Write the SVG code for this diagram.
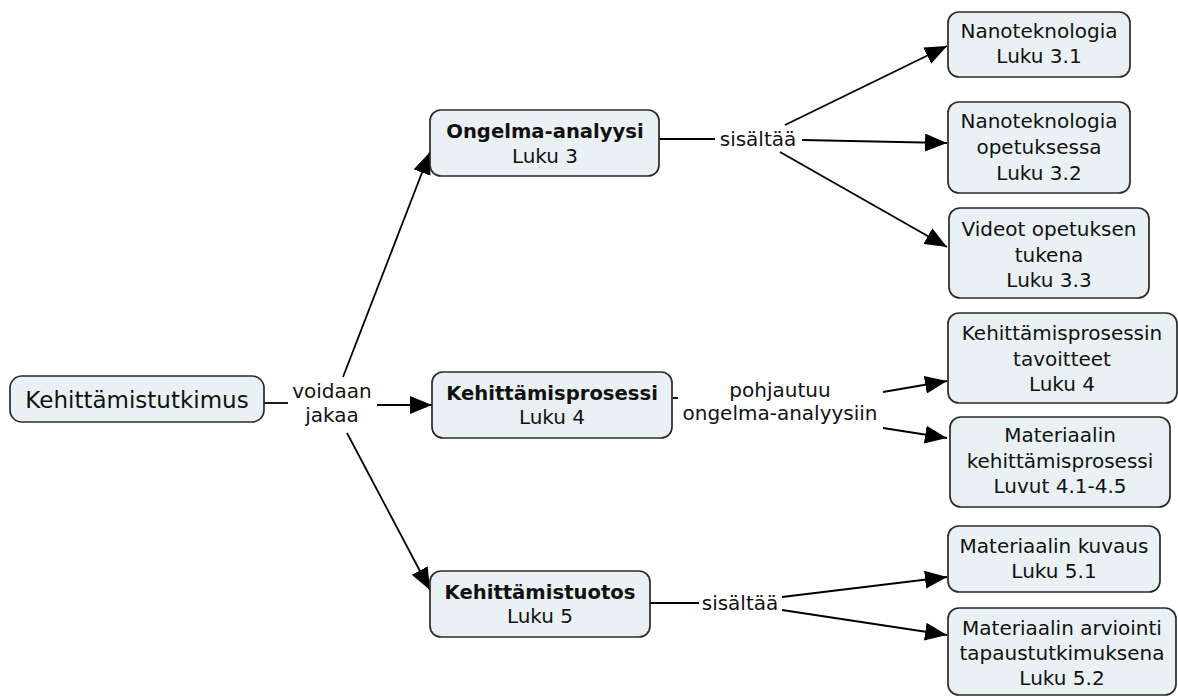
<svg xmlns="http://www.w3.org/2000/svg" width="1178" height="697" viewBox="0 0 1178 697">
<defs>
<marker id="arr" markerUnits="userSpaceOnUse" markerWidth="23" markerHeight="18" refX="22" refY="9" orient="auto">
<path d="M0,0 L22,9 L0,18 z" fill="#000"/>
</marker>
<style>
.box{fill:#e9f1f4;stroke:#2a2a2a;stroke-width:1.7}
.t{font-family:"DejaVu Sans",Verdana,sans-serif;font-size:20px;fill:#111;text-anchor:middle}
.b{font-weight:bold;font-size:19.6px}
.root{font-size:23px}
.c{stroke:#000;stroke-width:1.8;fill:none}
.a{marker-end:url(#arr)}
</style>
</defs>
<rect width="1178" height="697" fill="#fff"/>
<g id="connectors">
<line class="c" x1="264" y1="403" x2="288" y2="403"/>
<line class="c a" x1="343" y1="377" x2="430" y2="152"/>
<line class="c a" x1="377" y1="405" x2="432" y2="405"/>
<line class="c a" x1="347" y1="433" x2="430" y2="590"/>
<line class="c" x1="659" y1="139" x2="715" y2="139"/>
<line class="c a" x1="785" y1="125" x2="947" y2="46"/>
<line class="c a" x1="802" y1="140" x2="947" y2="143"/>
<line class="c a" x1="780" y1="152" x2="947" y2="247"/>
<line class="c" x1="673" y1="398" x2="678" y2="398"/>
<line class="c a" x1="883" y1="392" x2="947" y2="381"/>
<line class="c a" x1="883" y1="428" x2="947" y2="438"/>
<line class="c" x1="650" y1="603" x2="699" y2="603"/>
<line class="c a" x1="782" y1="597" x2="947" y2="577"/>
<line class="c a" x1="782" y1="610" x2="947" y2="635"/>
<text class="t" x="332" y="398">voidaan</text>
<text class="t" x="332" y="422">jakaa</text>
<text class="t" x="758" y="146">sisältää</text>
<text class="t" x="780" y="397">pohjautuu</text>
<text class="t" x="780" y="420">ongelma-analyysiin</text>
<text class="t" x="740" y="610">sisältää</text>
</g>
<g id="n-root">
<rect class="box" x="10" y="376" width="254" height="46" rx="12"/>
<text class="t root" x="137" y="408">Kehittämistutkimus</text>
</g>
<g id="n-ongelma">
<rect class="box" x="430" y="110" width="229" height="66" rx="11"/>
<text class="t b" x="545" y="138">Ongelma-analyysi</text>
<text class="t" x="545" y="163">Luku 3</text>
</g>
<g id="n-prosessi">
<rect class="box" x="432" y="372" width="240" height="66" rx="11"/>
<text class="t b" x="552" y="400">Kehittämisprosessi</text>
<text class="t" x="552" y="424">Luku 4</text>
</g>
<g id="n-tuotos">
<rect class="box" x="430" y="571" width="220" height="66" rx="11"/>
<text class="t b" x="540" y="599">Kehittämistuotos</text>
<text class="t" x="540" y="623">Luku 5</text>
</g>
<g id="n-nano">
<rect class="box" x="948" y="12" width="182" height="65" rx="11"/>
<text class="t" x="1039" y="38">Nanoteknologia</text>
<text class="t" x="1039" y="63">Luku 3.1</text>
</g>
<g id="n-nano-opetus">
<rect class="box" x="948" y="102" width="182" height="91" rx="11"/>
<text class="t" x="1039" y="128">Nanoteknologia</text>
<text class="t" x="1039" y="154">opetuksessa</text>
<text class="t" x="1039" y="180">Luku 3.2</text>
</g>
<g id="n-videot">
<rect class="box" x="949" y="208" width="200" height="90" rx="11"/>
<text class="t" x="1049" y="236">Videot opetuksen</text>
<text class="t" x="1049" y="262">tukena</text>
<text class="t" x="1049" y="287">Luku 3.3</text>
</g>
<g id="n-tavoitteet">
<rect class="box" x="948" y="313" width="229" height="90" rx="11"/>
<text class="t" x="1062" y="340">Kehittämisprosessin</text>
<text class="t" x="1062" y="366">tavoitteet</text>
<text class="t" x="1062" y="391">Luku 4</text>
</g>
<g id="n-materiaali-prosessi">
<rect class="box" x="950" y="417" width="220" height="90" rx="11"/>
<text class="t" x="1060" y="442">Materiaalin</text>
<text class="t" x="1060" y="468">kehittämisprosessi</text>
<text class="t" x="1060" y="493">Luvut 4.1-4.5</text>
</g>
<g id="n-kuvaus">
<rect class="box" x="948" y="526" width="212" height="66" rx="11"/>
<text class="t" x="1054" y="553">Materiaalin kuvaus</text>
<text class="t" x="1054" y="578">Luku 5.1</text>
</g>
<g id="n-arviointi">
<rect class="box" x="948" y="608" width="228" height="87" rx="11"/>
<text class="t" x="1062" y="635">Materiaalin arviointi</text>
<text class="t" x="1062" y="660">tapaustutkimuksena</text>
<text class="t" x="1062" y="685">Luku 5.2</text>
</g>
</svg>
